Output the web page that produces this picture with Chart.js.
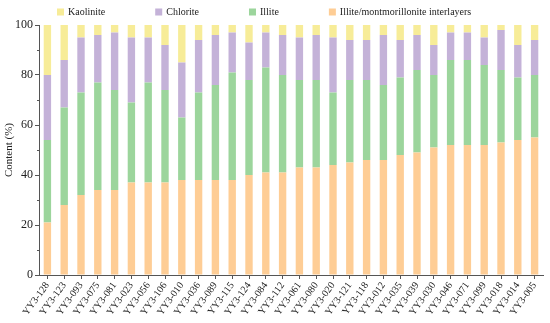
<!DOCTYPE html>
<html>
<head>
<meta charset="utf-8">
<script src="https://cdn.jsdelivr.net/npm/chart.js@4.4.1/dist/chart.umd.min.js"></script>
<style>
  html, body { margin: 0; padding: 0; background: #fff; }
  #wrap { width: 550px; height: 323px; position: relative; }
</style>
</head>
<body>
<div id="wrap"><canvas id="c" width="550" height="323"></canvas></div>
<script>
const categories = ['YY3-128','YY3-123','YY3-093','YY3-075','YY3-081','YY3-023','YY3-056','YY3-106','YY3-010','YY3-036','YY3-089','YY3-115','YY3-124','YY3-084','YY3-112','YY3-061','YY3-080','YY3-020','YY3-121','YY3-118','YY3-012','YY3-035','YY3-039','YY3-030','YY3-046','YY3-071','YY3-099','YY3-018','YY3-014','YY3-005'];
const illiteMontmorillonite = [21,28,32,34,34,37,37,37,38,38,38,38,40,41,41,43,43,44,45,46,46,48,49,51,52,52,52,53,54,55];
const illite = [33,39,41,43,40,32,40,37,25,35,38,43,38,42,39,35,35,29,33,32,30,31,33,29,34,34,32,29,25,25];
const chlorite = [26,19,22,19,23,26,18,18,22,21,20,16,15,14,16,17,18,22,16,16,20,15,14,12,11,11,11,16,13,14];
const kaolinite = [20,14,5,4,3,5,5,8,15,6,4,3,7,3,4,5,4,5,6,6,4,6,4,8,3,3,5,2,8,6];
const yTicks = [0,20,40,60,80,100];
const yMinorTicks = [10,30,50,70,90];

const FONT = "'Liberation Serif', 'Times New Roman', serif";
const AXIS = '#555';
const TEXT = '#222';

const legendPlugin = {
  id: 'customLegend',
  afterDraw(chart) {
    const ctx = chart.ctx;
    ctx.save();
    ctx.font = '10px ' + FONT;
    ctx.textBaseline = 'middle';
    const items = chart.data.datasets.slice().reverse();
    let x = 57;
    const y = 12;
    items.forEach(ds => {
      ctx.fillStyle = ds.backgroundColor;
      ctx.fillRect(x, y - 3.5, 7, 7);
      ctx.fillStyle = TEXT;
      ctx.fillText(ds.label, x + 11, y);
      x += 11 + ctx.measureText(ds.label).width + 50;
    });
    ctx.restore();
  }
};

const minorTickPlugin = {
  id: 'minorTicks',
  afterDraw(chart) {
    const s = chart.scales.y;
    const ctx = chart.ctx;
    ctx.save();
    ctx.strokeStyle = AXIS;
    ctx.lineWidth = 1;
    yMinorTicks.forEach(v => {
      const py = Math.round(s.getPixelForValue(v)) + 0.5;
      ctx.beginPath();
      ctx.moveTo(s.right - 2, py);
      ctx.lineTo(s.right, py);
      ctx.stroke();
    });
    ctx.restore();
  }
};

new Chart(document.getElementById('c'), {
  type: 'bar',
  data: {
    labels: categories,
    datasets: [
      { label: 'Illite/montmorillonite interlayers', data: illiteMontmorillonite, backgroundColor: '#FECD95' },
      { label: 'Illite', data: illite, backgroundColor: '#9CD59C' },
      { label: 'Chlorite', data: chlorite, backgroundColor: '#C4B2D8' },
      { label: 'Kaolinite', data: kaolinite, backgroundColor: '#F7EC98' }
    ]
  },
  options: {
    responsive: false,
    animation: false,
    devicePixelRatio: 1,
    layout: { padding: { top: 25, right: 7, left: 0, bottom: 0 } },
    datasets: { bar: { barPercentage: 0.44, categoryPercentage: 1.0, borderWidth: 0 } },
    plugins: {
      legend: { display: false },
      tooltip: { enabled: false }
    },
    scales: {
      x: {
        stacked: true,
        grid: { display: true, drawOnChartArea: false, drawTicks: true, tickLength: 4, offset: false, color: AXIS },
        border: { display: true, color: AXIS, width: 1 },
        ticks: {
          autoSkip: false, minRotation: 54, maxRotation: 54, padding: 1,
          color: TEXT, font: { family: FONT, size: 10 }
        },
        afterFit(scale) { scale.height = 48; }
      },
      y: {
        stacked: true,
        min: 0, max: 100,
        afterBuildTicks(scale) { scale.ticks = yTicks.map(v => ({ value: v })); },
        grid: { display: true, drawOnChartArea: false, drawTicks: true, tickLength: 4, color: AXIS },
        border: { display: true, color: AXIS, width: 1 },
        ticks: { padding: 2, color: TEXT, font: { family: FONT, size: 12 } },
        title: { display: true, text: 'Content (%)', color: TEXT, font: { family: FONT, size: 11 }, padding: { top: 3, bottom: 0 } },
        afterFit(scale) { scale.width = 39; }
      }
    }
  },
  plugins: [legendPlugin, minorTickPlugin]
});
</script>
</body>
</html>
